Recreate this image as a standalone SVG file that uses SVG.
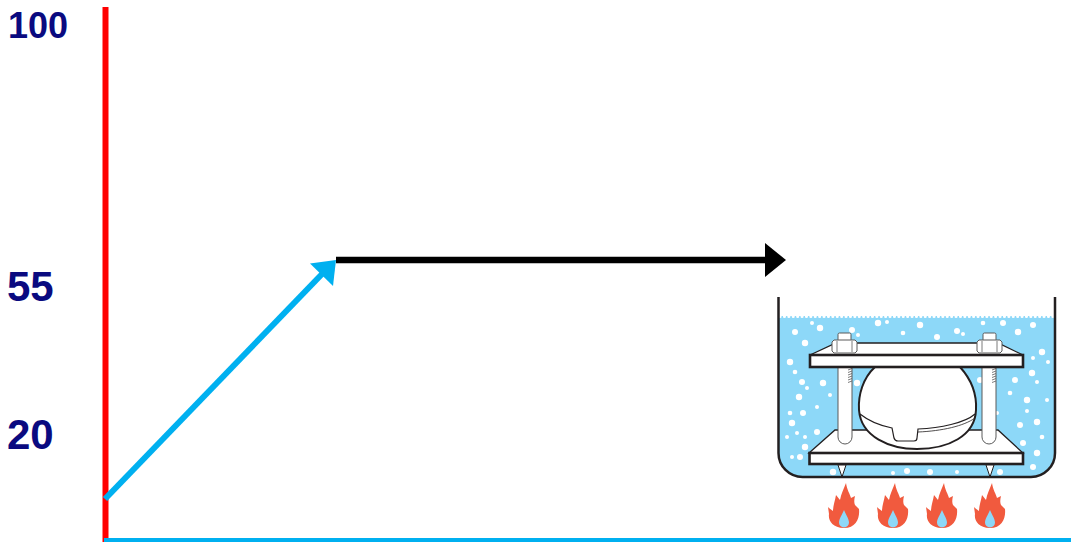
<svg xmlns="http://www.w3.org/2000/svg" width="1071" height="542" viewBox="0 0 1071 542">
<style>
.lbl{font-family:"Liberation Sans",Arial,sans-serif;font-weight:bold;fill:#0A0A80}
.s1{font-size:36px}
.s2{font-size:42px}
.ink{stroke:#231F20;fill:#fff}
.thin{stroke:#5A5A5A;fill:#fff;stroke-width:1}
.bub{fill:#fff}
.flame{fill:#F15A3E}
.drop{fill:#8DD8F8}
</style>
<defs>
<path id="flamePath" d="M2,-45 C3,-38 6,-34 7,-30 L11,-32 C10,-28 10,-25 11,-23 L15,-19 C16,-10 12,0 0,0 C-12,0 -16,-8 -15,-14 L-16,-21 C-14,-19 -12,-18 -11,-17 C-11,-22 -9,-27 -8,-33 L-4,-28 C-3,-34 0,-40 2,-45 Z"/>
<path id="dropPath" d="M0,-18 C2,-13 5,-9 5,-5.5 A5,5 0 0 1 -5,-5.5 C-5,-9 -2,-13 0,-18 Z"/>
<g id="flame"><use href="#flamePath" class="flame"/><use href="#dropPath" class="drop"/></g>
<g id="nut">
<rect x="-6.5" y="-20" width="13" height="8" rx="1.5" class="thin"/>
<polygon points="-12.5,-11 -10.5,-13 10.5,-13 12.5,-11 12.5,-2 10.5,0 -10.5,0 -12.5,-2" class="thin"/>
<line x1="-7.5" y1="-12" x2="-7.5" y2="-1" stroke="#5A5A5A" stroke-width="0.8"/>
<line x1="7.5" y1="-12" x2="7.5" y2="-1" stroke="#5A5A5A" stroke-width="0.8"/>
</g>
<g id="rod">
<rect x="-7" y="360" width="14" height="84" rx="7" class="thin"/>
<path d="M3,370 l4,-1.5 M3,372.5 l4,-1.5 M3,375 l4,-1.5 M3,377.5 l4,-1.5 M3,380 l4,-1.5 M3,382.5 l4,-1.5" stroke="#5A5A5A" stroke-width="0.8"/>
</g>
</defs>

<g id="axes">
<rect x="102.5" y="7" width="6" height="535" fill="#FF0000"/>
<rect x="104" y="538" width="967" height="4" fill="#00B0F0"/>
</g>

<g id="label-100"><text x="8" y="37.5" class="lbl s1">100</text></g>
<g id="label-55"><text x="7" y="300.5" class="lbl s2">55</text></g>
<g id="label-20"><text x="7" y="448.5" class="lbl s2">20</text></g>

<g id="connectors">
<line x1="105" y1="499" x2="323" y2="273" stroke="#00B0F0" stroke-width="6"/>
<polygon points="336,260 310,263.5 333,286" fill="#00B0F0"/>
<line x1="336" y1="260" x2="767" y2="260" stroke="#000" stroke-width="6.5"/>
<polygon points="765,243 786,260 765,277" fill="#000"/>
</g>

<g id="boiling-test">
<path d="M779,316 H1054 V453 A24,24 0 0 1 1030,477 H803 A24,24 0 0 1 779,453 Z" fill="#8DD8F8"/>
<line x1="780" y1="316.5" x2="1053" y2="316.5" stroke="#fff" stroke-width="3" stroke-linecap="round" stroke-dasharray="0.1 4.3"/>
<g class="bub">
<circle cx="795" cy="332" r="3"/><circle cx="805" cy="343" r="3.2"/><circle cx="790" cy="362" r="3.2"/><circle cx="795" cy="372" r="2.3"/>
<circle cx="802" cy="382" r="3"/><circle cx="807" cy="388" r="2"/><circle cx="799" cy="397" r="3.2"/><circle cx="790" cy="413" r="2.3"/>
<circle cx="803" cy="413" r="3"/><circle cx="792" cy="423" r="3.2"/><circle cx="797" cy="433" r="2"/><circle cx="787" cy="437" r="2"/>
<circle cx="805" cy="447" r="3.2"/><circle cx="800" cy="457" r="3"/><circle cx="792" cy="457" r="2"/><circle cx="820" cy="328" r="3.2"/>
<circle cx="812" cy="323" r="2"/><circle cx="852" cy="330" r="3"/><circle cx="858" cy="335" r="2"/><circle cx="878" cy="323" r="3.2"/>
<circle cx="887" cy="322" r="2"/><circle cx="920" cy="325" r="3.2"/><circle cx="937" cy="337" r="3"/><circle cx="957" cy="331" r="3"/>
<circle cx="963" cy="334" r="2"/><circle cx="903" cy="333" r="2.3"/><circle cx="983" cy="323" r="2.3"/><circle cx="1003" cy="323" r="3"/>
<circle cx="1018" cy="332" r="3.2"/><circle cx="1033" cy="325" r="3"/><circle cx="1042" cy="352" r="3.2"/><circle cx="1033" cy="358" r="2"/>
<circle cx="1048" cy="362" r="2"/><circle cx="1032" cy="373" r="3.2"/><circle cx="1037" cy="382" r="2"/><circle cx="1015" cy="380" r="3"/>
<circle cx="1010" cy="393" r="2.3"/><circle cx="1027" cy="400" r="3.2"/><circle cx="1047" cy="400" r="2"/><circle cx="1027" cy="411" r="2"/>
<circle cx="1037" cy="422" r="3.2"/><circle cx="1020" cy="425" r="3"/><circle cx="1042" cy="437" r="2.3"/><circle cx="1023" cy="443" r="3"/>
<circle cx="1037" cy="453" r="3.2"/><circle cx="1033" cy="467" r="3"/><circle cx="1000" cy="472" r="3"/><circle cx="957" cy="472" r="2"/>
<circle cx="930" cy="472" r="3"/><circle cx="907" cy="471" r="3"/><circle cx="893" cy="473" r="2"/><circle cx="833" cy="472" r="3.2"/>
<circle cx="823" cy="383" r="3.2"/><circle cx="830" cy="395" r="2"/><circle cx="817" cy="432" r="3"/><circle cx="805" cy="437" r="2"/>
<circle cx="857" cy="383" r="3.2"/><circle cx="980" cy="380" r="3"/><circle cx="997" cy="413" r="2"/><circle cx="817" cy="407" r="2"/>
</g>

<g id="lower-plate">
<polygon points="809,453 835,430 998,430 1023,453" class="ink" stroke-width="1.3"/>
<rect x="809.5" y="453" width="213.5" height="11" class="ink" stroke-width="2.6"/>
<polygon points="838,465 846,465 842,477" class="ink" stroke-width="1"/>
<polygon points="986,465 994,465 990,477" class="ink" stroke-width="1"/>
</g>

<use href="#rod" x="845"/>
<use href="#rod" x="989"/>

<g id="dome">
<path d="M875,367 C863,378 858,395 859,410 C861,437 890,449 917,449 C948,449 975,436 976,410 C977,393 970,378 960,367 Z" class="ink" stroke-width="2"/>
<path d="M860,414 C870,422 882,426 892,428 L894,438 Q895,441 898,441 L914,441 Q917,441 917,438 L918,429 C940,428 965,423 975,414" fill="none" stroke="#231F20" stroke-width="1.2"/>
<path d="M918,432 C942,431 964,426 975,418" fill="none" stroke="#231F20" stroke-width="0.8"/>
</g>

<g id="upper-plate">
<polygon points="810,355 836,343 998,343 1023,355" class="ink" stroke-width="1.3"/>
<rect x="810" y="355" width="213" height="12" class="ink" stroke-width="2.6"/>
<use href="#nut" x="844.5" y="353"/>
<use href="#nut" x="989.5" y="353"/>
</g>

<path id="tank" d="M778.5,297 V453 A24,24 0 0 0 802.5,477 H1031 A24,24 0 0 0 1055,453 V297" fill="none" stroke="#231F20" stroke-width="2.5"/>

<g id="flames">
<use href="#flame" x="844" y="528"/>
<use href="#flame" x="893" y="528"/>
<use href="#flame" x="942" y="528"/>
<use href="#flame" x="990" y="528"/>
</g>
</g>
</svg>
